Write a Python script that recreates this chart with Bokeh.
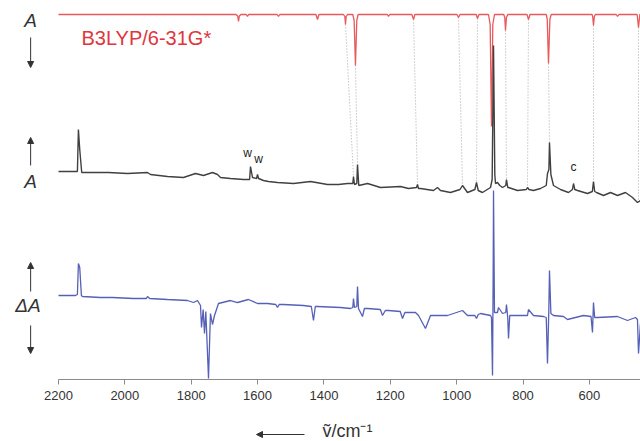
from bokeh.plotting import figure
from bokeh.models import Range1d, FixedTicker, Label, Arrow, NormalHead, ColumnDataSource
from bokeh.core.properties import value
from bokeh.embed import file_html
from bokeh.resources import INLINE

# ---- calculated spectrum (B3LYP/6-31G*), drawn downward ----
calc_wn = [2200, 1665, 1660, 1657.5, 1655, 1650, 1634, 1630.4, 1627, 1541, 1537, 1533,
           1424, 1419.4, 1415, 1341, 1337, 1335, 1333, 1329, 1313, 1309, 1305, 1301, 1297,
           1209, 1205.4, 1202, 1135, 1130, 1126, 999, 994.4, 990, 941, 937.2, 933,
           904, 899, 895, 891, 886, 858, 855, 852.8, 850, 846, 788, 783.5, 779,
           730, 727, 723.2, 719, 715, 592, 590, 587.6, 585, 582, 519, 515.2, 511,
           456, 452, 448, 446]
calc_int = [0, 0, 1.5, 7, 1.5, 0, 0, 2, 0, 0, 2, 0,
            0, 5, 0, 0, 2, 10, 2, 0, 0, 6, 51, 6, 0,
            0, 2, 0, 0, 5, 0, 0, 3, 0, 0, 4, 0,
            0, 10, 112, 10, 0, 0, 3, 16, 3, 0, 0, 5, 0,
            0, 5, 49, 5, 0, 0, 2, 11, 2, 0, 0, 2, 0,
            0, 13, 0, 0]

# ---- experimental absorbance spectrum (black) ----
abs_wn = [2200, 2143, 2140, 2136, 2130, 2103.6, 2049.3, 1992.0, 1931.8, 1922.7, 1871.5, 1823.3,
          1787.1, 1763.0, 1735.9, 1720.8, 1711.7, 1681.6, 1642.4, 1624, 1621.3, 1615.3, 1603,
          1600.2, 1597, 1582.2, 1567.1, 1540.0, 1491.7, 1440.5, 1389.3, 1356.1, 1329.0, 1313,
          1310.9, 1308, 1301, 1298.8, 1295, 1268.7, 1229.5, 1169.2, 1145.1, 1121, 1118.0, 1115,
          1109.0, 1069.8, 1057.7, 1048.7, 1018.6, 990, 982.4, 967.3, 945, 940.2, 935, 922.1,
          898.0, 893, 888.9, 885, 882.9, 876.9, 870, 861.8, 852, 849.8, 846, 843.7, 816.6,
          790, 786.5, 782, 768.4, 747.3, 730, 726.2, 722, 720.2, 716, 708.1, 687.0, 662.9,
          651, 647.8, 644, 635.8, 605.6, 591, 587.6, 584, 578.5, 557.4, 536.3, 515.2, 491.1,
          470.0, 455.0, 446]
abs_val = [8, 8, 50, 30, 7, 7, 7, 6, 7, 5, 3, 2,
           6, 4, 7, 5, 2, 1, 0, 0, 13, 2, 1,
           5, 1, -1, -2, -3, -4, -2, -5, -5, -4, -4,
           3, -5, -4, 15, -6, -4, -8, -7, -9, -8, -5, -9,
           -9, -11, -8, -11, -13, -10, -6, -13, -10, -3, -11, -13,
           -8, 0, 134, 5, -4, -3, -6, -8, -6, 0, -8, -8, -11,
           -10, -8, -10, -11, -9, -6, 6, 10, 37, 5, -6, -10, -13,
           -10, -4, -10, -11, -14, -12, -2, -12, -13, -16, -13, -16, -13,
           -18, -23, -21]

# ---- difference spectrum (blue) ----
diff_wn = [2200, 2148.8, 2143, 2140, 2136, 2131, 2127.7, 2073.4, 2037.2, 1973.9, 1935, 1931.8,
           1925, 1871.5, 1811.2, 1793.1, 1781.1, 1772, 1769.0, 1764, 1760.0, 1756, 1747.9,
           1742, 1735.9, 1729.8, 1717.8, 1681.6, 1660.5, 1627.4, 1600.2, 1570.1, 1545, 1540.0,
           1535, 1521.9, 1461.6, 1438, 1431.5, 1426, 1419.4, 1350.1, 1320.0, 1313, 1310.9, 1308,
           1301, 1298.8, 1295.8, 1283.8, 1278, 1268.7, 1230, 1223.5, 1215, 1205.4, 1170, 1163.2,
           1156, 1124.0, 1115.0, 1093.9, 1078.8, 1027.6, 982.4, 967.3, 945, 940.2, 935, 928.1,
           898.0, 895, 891.9, 890, 888.9, 886, 882.9, 876.9, 873.9, 861.8, 852, 849.8, 846,
           843.7, 840, 837.7, 786.5, 783.5, 768.4, 738.3, 730, 726.2, 722, 720.2, 716, 708.1,
           678.0, 666.0, 617.7, 595, 590.6, 587.6, 584, 575.5, 515.2, 485.1, 461.0, 455, 451.9,
           446]
diff_val = [2, 2, 3, 34, 30, 2, 1, 0, 0, -1, -1, 1,
            -1, -2, -3, -5, -3, -8, -30, -12, -36, -14, -81,
            -16, -27, -18, -6, -3, -5, -2, -6, -6, -7, -10,
            -7, -7, -8, -9, -23, -9, -9, -10, -11, -10, -1, -10,
            -9, 11, -11, -19, -11, -11, -12, -18, -13, -13, -14, -21,
            -15, -15, -18, -31, -18, -18, -13, -18, -18, -21, -17, -16,
            -18, -20, -78, 20, 107, -15, -15, -15, -10, -16, -15, -7, -20,
            -41, -18, -18, -18, -12, -18, -19, -20, -66, -10, 27, -16, -18,
            -19, -22, -18, -19, -35, -5, -20, -20, -19, -23, -20, -22, -56,
            -26]

# ---- assignments: calculated band -> observed band (dotted guides) ----
assign_calc_wn = [1335, 1305, 1130, 994.4, 937.2, 852.8, 783.5, 723.2, 587.6, 452]
assign_calc_int = [10, 51, 5, 3, 4, 16, 5, 49, 11, 13]
assign_exp_wn = [1310.9, 1298.8, 1118.0, 982.4, 940.2, 849.8, 786.5, 720.2, 587.6, 452]
assign_exp_val = [3, 15, -5, -6, -3, 0, -8, 37, -2, -22]

# ---- band marks on the absorbance spectrum ----
mark_text = ["w", "w", "c"]
mark_wn = [1630, 1597, 648]
mark_val = [20, 14, 6]

x_ticks = [2200, 2000, 1800, 1600, 1400, 1200, 1000, 800, 600]
x_axis_start = 2200
x_axis_end = 446

# vertical placement of the stacked traces (layout)
RED_BASE = 365
BLACK_BASE = 200
BLUE_BASE = 82

FONT = "Liberation Sans"
INK = "#333333"

p = figure(width=640, height=441, output_backend="svg", toolbar_location=None,
           x_range=Range1d(2374.8, 445.9), y_range=Range1d(-62, 379),
           y_axis_location=None, min_border=0, min_border_left=0, min_border_right=0,
           min_border_top=0, min_border_bottom=0)
p.grid.visible = False
p.outline_line_color = None
p.background_fill_color = "white"
p.border_fill_color = "white"

# dotted guides
xs = [[c, e] for c, e in zip(assign_calc_wn, assign_exp_wn)]
ys = [[RED_BASE - ci, BLACK_BASE + ev] for ci, ev in zip(assign_calc_int, assign_exp_val)]
p.multi_line(xs=xs, ys=ys, line_color="#a8a8a8", line_dash="1 2", line_width=1)

# spectra
p.line(calc_wn, [RED_BASE - v for v in calc_int], line_color="#e8585c", line_width=1.3)
p.line(abs_wn, [BLACK_BASE + v for v in abs_val], line_color="#404040", line_width=1.4)
p.line(diff_wn, [BLUE_BASE + v for v in diff_val], line_color="#5660b6", line_width=1.3)

# band marks
src = ColumnDataSource(dict(x=mark_wn, y=[BLACK_BASE + v for v in mark_val], t=mark_text))
p.text(x="x", y="y", text="t", source=src, text_font=value(FONT), text_font_size="12px",
       text_align="center", text_baseline="bottom", text_color="#222222")

# x axis, drawn at y = 0 inside the frame
ax = p.xaxis[0]
ax.fixed_location = 0
ax.bounds = (x_axis_end, x_axis_start)
ax.ticker = FixedTicker(ticks=x_ticks)
ax.minor_tick_line_color = None
ax.major_tick_in = 0
ax.major_tick_out = 5
ax.axis_line_color = "#8a8a8a"
ax.major_tick_line_color = "#8a8a8a"
ax.major_label_text_font = FONT
ax.major_label_text_font_size = "13px"
ax.major_label_text_color = INK
ax.major_label_standoff = 6

# side labels
XL = 2284
p.add_layout(Label(x=XL, y=359.5, text="A", text_font=FONT, text_font_style="italic",
                   text_font_size="19px", text_align="center", text_baseline="middle",
                   text_color=INK))
p.add_layout(Label(x=2130.7, y=342, text="B3LYP/6-31G*", text_font=FONT,
                   text_font_size="20px", text_align="left", text_baseline="middle",
                   text_color="#e0353d"))
p.add_layout(Label(x=XL, y=198.5, text="A", text_font=FONT, text_font_style="italic",
                   text_font_size="19px", text_align="center", text_baseline="middle",
                   text_color=INK))
p.add_layout(Label(x=2292, y=74, text="ΔA", text_font=FONT, text_font_style="italic",
                   text_font_size="19px", text_align="center", text_baseline="middle",
                   text_color=INK))

def arrow(x0, y0, x1, y1):
    p.add_layout(Arrow(x_start=x0, y_start=y0, x_end=x1, y_end=y1,
                       line_color=INK, line_width=1,
                       end=NormalHead(size=6, fill_color=INK, line_color=INK)))

arrow(XL, 342, XL, 312)
arrow(XL, 214, XL, 242)
arrow(XL, 88, XL, 117)
arrow(XL, 54, XL, 26)

# x axis title with direction arrow
p.add_layout(Label(x=1329, y=-51, text="ṽ/cm⁻¹", text_font=FONT, text_font_size="18px",
                   text_align="center", text_baseline="middle", text_color=INK))
arrow(1458.6, -55, 1603.2, -55)

open("out.html", "w").write(file_html(p, INLINE))
